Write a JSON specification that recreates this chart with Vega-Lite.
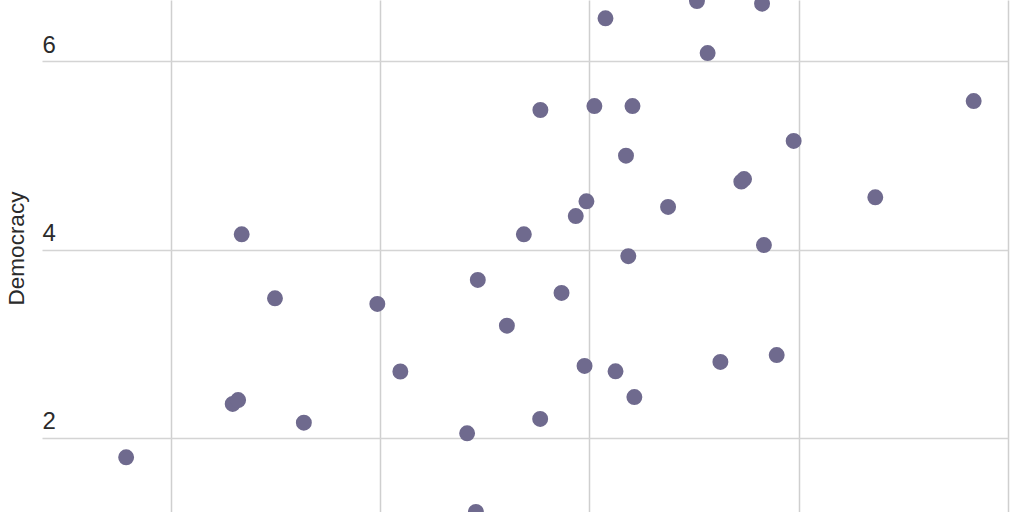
{
  "$schema": "https://vega.github.io/schema/vega-lite/v6.json",
  "width": 966,
  "height": 512,
  "autosize": {"type": "none"},
  "padding": {"left": 42, "top": 0, "right": 16, "bottom": 0},
  "background": "white",
  "config": {
    "view": {"stroke": null},
    "font": "Liberation Sans"
  },
  "data": {
    "values": [
      {"x": 0.787, "democracy": 1.795},
      {"x": 1.296, "democracy": 2.361},
      {"x": 1.322, "democracy": 2.403},
      {"x": 1.339, "democracy": 4.163},
      {"x": 1.498, "democracy": 3.483},
      {"x": 1.636, "democracy": 2.162},
      {"x": 1.987, "democracy": 3.423},
      {"x": 2.097, "democracy": 2.706},
      {"x": 2.416, "democracy": 2.050},
      {"x": 2.458, "democracy": 1.214},
      {"x": 2.467, "democracy": 3.678},
      {"x": 2.606, "democracy": 3.192},
      {"x": 2.687, "democracy": 4.163},
      {"x": 2.766, "democracy": 5.483},
      {"x": 2.765, "democracy": 2.202},
      {"x": 2.867, "democracy": 3.540},
      {"x": 2.935, "democracy": 4.357},
      {"x": 2.977, "democracy": 2.765},
      {"x": 2.986, "democracy": 4.513},
      {"x": 3.024, "democracy": 5.525},
      {"x": 3.077, "democracy": 6.457},
      {"x": 3.125, "democracy": 2.708},
      {"x": 3.175, "democracy": 4.998},
      {"x": 3.186, "democracy": 3.930},
      {"x": 3.206, "democracy": 5.525},
      {"x": 3.215, "democracy": 2.435},
      {"x": 3.376, "democracy": 4.453},
      {"x": 3.514, "democracy": 6.640},
      {"x": 3.565, "democracy": 6.088},
      {"x": 3.626, "democracy": 2.807},
      {"x": 3.726, "democracy": 4.722},
      {"x": 3.739, "democracy": 4.750},
      {"x": 3.825, "democracy": 6.612},
      {"x": 3.834, "democracy": 4.049},
      {"x": 3.895, "democracy": 2.881},
      {"x": 3.976, "democracy": 5.154},
      {"x": 4.366, "democracy": 4.556},
      {"x": 4.836, "democracy": 5.578}
    ]
  },
  "mark": {
    "type": "circle",
    "size": 254,
    "opacity": 1,
    "color": "#6f6a8e",
    "clip": true
  },
  "encoding": {
    "x": {
      "field": "x",
      "type": "quantitative",
      "scale": {"domain": [0.385, 5.0], "nice": false, "zero": false},
      "axis": {
        "values": [1, 2, 3, 4, 5],
        "grid": true,
        "gridColor": "#cfcfcf",
        "gridWidth": 1.5,
        "labels": false,
        "ticks": false,
        "domain": false,
        "title": null
      }
    },
    "y": {
      "field": "democracy",
      "type": "quantitative",
      "scale": {"domain": [1.214, 6.651], "nice": false, "zero": false},
      "axis": {
        "values": [2, 4, 6],
        "grid": true,
        "gridColor": "#d4d4d4",
        "gridWidth": 1.5,
        "ticks": false,
        "domain": false,
        "labelAlign": "left",
        "labelBaseline": "alphabetic",
        "labelPadding": 0,
        "labelOffset": -9,
        "labelFontSize": 24,
        "labelColor": "#2b2b2b",
        "title": "Democracy",
        "titleFontSize": 22.5,
        "titleFontWeight": "normal",
        "titleColor": "#2b2b2b",
        "titleAngle": 270,
        "titleAlign": "center",
        "titleBaseline": "middle",
        "titleX": -26,
        "titleY": 248
      }
    }
  }
}
